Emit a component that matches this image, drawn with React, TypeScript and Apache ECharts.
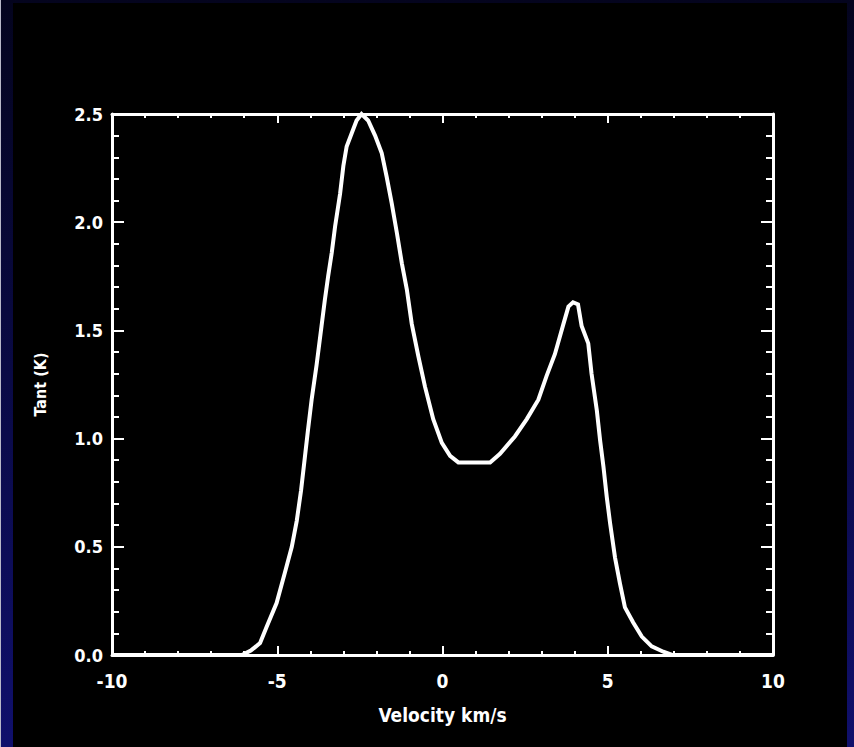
import React, { useEffect, useRef } from "react";
import * as echarts from "echarts";

// Spectrum: antenna temperature versus velocity
const velocity = [
  -10.0, -6.5, -6.07, -5.8, -5.52, -5.32, -5.02, -4.77, -4.56, -4.41, -4.28, -4.16, -4.07,
  -3.96, -3.81, -3.66, -3.56, -3.46, -3.35, -3.25, -3.1, -3.0, -2.9, -2.75, -2.6, -2.45,
  -2.25, -2.04, -1.84, -1.69, -1.54, -1.38, -1.23, -1.08, -0.93, -0.73, -0.53, -0.28,
  -0.02, 0.23, 0.48, 1.44, 1.74, 2.19, 2.55, 2.9, 3.15, 3.4, 3.66, 3.81, 3.95, 4.1, 4.21,
  4.41, 4.51, 4.67, 4.77, 4.87, 4.97, 5.07, 5.22, 5.37, 5.52, 5.77, 6.03, 6.33, 6.68,
  6.95, 10.0,
];
const temperature = [
  0, 0, 0, 0.02, 0.055, 0.13, 0.24, 0.38, 0.5, 0.62, 0.76, 0.92, 1.04,
  1.18, 1.34, 1.52, 1.64, 1.75, 1.86, 1.98, 2.13, 2.26, 2.35, 2.41, 2.47, 2.5,
  2.47, 2.4, 2.32, 2.21, 2.09, 1.95, 1.81, 1.69, 1.53, 1.38, 1.24, 1.09,
  0.98, 0.92, 0.89, 0.89, 0.93, 1.01, 1.09, 1.18, 1.29, 1.39, 1.53, 1.61, 1.63, 1.62, 1.52,
  1.44, 1.3, 1.13, 0.99, 0.87, 0.73, 0.61, 0.45, 0.33, 0.22, 0.15, 0.085, 0.04, 0.015,
  0, 0,
];

const xTitle = "Velocity km/s";
const yTitle = "Tant (K)";

const FONT = "'DejaVu Sans Condensed', 'DejaVu Sans', sans-serif";

export default function App() {
  const ref = useRef<HTMLDivElement>(null);

  useEffect(() => {
    document.body.style.margin = "0";
    const chart = echarts.init(ref.current!, null, { renderer: "svg" });
    const white = "#ffffff";
    const line = { show: true, onZero: false, lineStyle: { color: white, width: 3 } };

    const xCommon = {
      type: "value" as const,
      min: -10,
      max: 10,
      interval: 5,
      axisLine: line,
      splitLine: { show: false },
      axisTick: { show: true, inside: true, length: 9, lineStyle: { color: white, width: 2 } },
      minorTick: { show: true, splitNumber: 5, length: 4, lineStyle: { color: white, width: 2 } },
    };
    const yCommon = {
      type: "value" as const,
      min: 0,
      max: 2.5,
      interval: 0.5,
      axisLine: line,
      splitLine: { show: false },
      axisTick: { show: true, inside: true, length: 12, lineStyle: { color: white, width: 2 } },
      minorTick: { show: true, splitNumber: 5, length: 7, lineStyle: { color: white, width: 2 } },
    };

    chart.setOption({
      animation: false,
      backgroundColor: "transparent",
      grid: { left: 112, top: 114, width: 661, height: 541 },
      xAxis: [
        {
          ...xCommon,
          position: "bottom",
          axisLabel: { color: white, fontFamily: FONT, fontSize: 19, fontWeight: "bold", margin: 16 },
          name: xTitle,
          nameLocation: "middle",
          nameGap: 50,
          nameTextStyle: { color: white, fontFamily: FONT, fontSize: 19, fontWeight: "bold" },
        },
        { ...xCommon, position: "top", axisLabel: { show: false } },
      ],
      yAxis: [
        {
          ...yCommon,
          position: "left",
          axisLabel: {
            color: white,
            fontFamily: FONT,
            fontSize: 18,
            fontWeight: "bold",
            margin: 9,
            formatter: (v: number) => v.toFixed(1),
          },
          name: yTitle,
          nameLocation: "middle",
          nameGap: 64,
          nameRotate: 90,
          nameTextStyle: { color: white, fontFamily: FONT, fontSize: 16, fontWeight: "bold" },
        },
        { ...yCommon, position: "right", axisLabel: { show: false } },
      ],
      series: [
        {
          type: "line",
          data: velocity.map((v, i) => [v, temperature[i]]),
          showSymbol: false,
          clip: false,
          lineStyle: { color: white, width: 4, join: "miter" },
          z: 1,
        },
      ],
    });
    return () => chart.dispose();
  }, []);

  return (
    <div
      style={{
        position: "relative",
        width: 854,
        height: 747,
        background: "linear-gradient(#04041e, #10106c)",
        overflow: "hidden",
      }}
    >
      <div style={{ position: "absolute", left: 0, top: 0, width: 1, height: 747, background: "#b8b8c8" }} />
      <div style={{ position: "absolute", left: 13, top: 3, right: 7, bottom: 0, background: "#000000" }} />
      <div ref={ref} style={{ position: "absolute", left: 0, top: 0, width: 854, height: 747 }} />
    </div>
  );
}
